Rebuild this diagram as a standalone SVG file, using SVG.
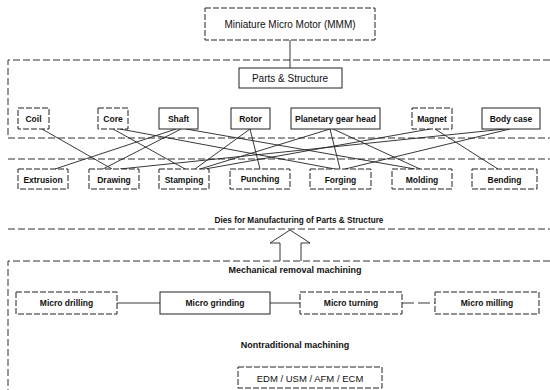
<svg xmlns="http://www.w3.org/2000/svg" width="550" height="390" viewBox="0 0 550 390">
<style>
.bg{fill:#fff}
.box{fill:#fff;stroke:#222;stroke-width:1}
.dash{stroke-dasharray:6 2}
.frame{fill:none;stroke:#333;stroke-width:1;stroke-dasharray:7 3}
.ln{fill:none;stroke:#222;stroke-width:0.9}
.t{font-family:"Liberation Sans",Arial,sans-serif;fill:#111;text-anchor:middle}
.r{font-size:10px}
.b{font-size:8.5px;font-weight:bold}
.h{font-size:9px;font-weight:bold}
</style>
<rect class="bg" x="0" y="0" width="550" height="390"/>
<g id="frames">
<path class="frame" d="M550,60 H8 V138 H550"/>
<path class="frame" d="M8,159 H550"/>
<path class="frame" d="M8,229 H550"/>
<path class="frame" d="M550,261 H8 V390"/>
</g>
<g id="connectors">
<line class="ln" x1="290" y1="40" x2="290" y2="68"/>
<line class="ln" x1="42" y1="129" x2="112" y2="169"/>
<line class="ln" x1="113" y1="129" x2="185" y2="169"/>
<line class="ln" x1="120" y1="129" x2="335" y2="169" stroke-width="1.3"/>
<line class="ln" x1="176" y1="129" x2="55" y2="169"/>
<line class="ln" x1="181" y1="129" x2="103" y2="169"/>
<line class="ln" x1="186" y1="129" x2="415" y2="169" stroke-width="1.3"/>
<line class="ln" x1="250" y1="129" x2="195" y2="169"/>
<line class="ln" x1="250" y1="129" x2="260" y2="169"/>
<line class="ln" x1="330" y1="129" x2="200" y2="169"/>
<line class="ln" x1="330" y1="129" x2="340" y2="169"/>
<line class="ln" x1="333" y1="129" x2="420" y2="169"/>
<line class="ln" x1="430" y1="129" x2="205" y2="169"/>
<line class="ln" x1="435" y1="129" x2="498" y2="169"/>
<line class="ln" x1="510" y1="129" x2="345" y2="169"/>
<line class="ln" x1="505" y1="129" x2="120" y2="169" stroke-width="1.3"/>
<line class="ln" x1="117" y1="303" x2="160" y2="303"/>
<line class="ln" x1="270" y1="303" x2="300" y2="303"/>
<line class="ln" x1="402" y1="303" x2="435" y2="303" stroke-dasharray="12 4"/>
<path id="up-arrow" class="ln" fill="#fff" d="M280,261 V243 H270 L290,230 L310,243 H301 V261"/>
</g>
<g id="mmm"><rect class="box dash" x="205" y="8" width="170" height="32"/><text class="t r" x="290" y="28" font-size="10.5">Miniature Micro Motor (MMM)</text></g>
<g id="parts"><rect class="box" x="239" y="68" width="103" height="20"/><text class="t r" x="290" y="81.5">Parts &amp; Structure</text></g>
<g id="coil"><rect class="box dash" x="18" y="108" width="31" height="21"/><text class="t b" x="33.5" y="122">Coil</text></g>
<g id="core"><rect class="box dash" x="98" y="108" width="30" height="21"/><text class="t b" x="113" y="122">Core</text></g>
<g id="shaft"><rect class="box" x="159" y="108" width="39" height="21"/><text class="t b" x="178.5" y="122">Shaft</text></g>
<g id="rotor"><rect class="box" x="231" y="108" width="39" height="21"/><text class="t b" x="250.5" y="122">Rotor</text></g>
<g id="planetary"><rect class="box" x="291" y="108" width="89" height="21"/><text class="t b" x="335.5" y="122">Planetary gear head</text></g>
<g id="magnet"><rect class="box dash" x="412" y="108" width="40" height="21"/><text class="t b" x="432" y="122">Magnet</text></g>
<g id="bodycase"><rect class="box" x="482" y="108" width="58" height="21"/><text class="t b" x="511" y="122">Body case</text></g>
<g id="extrusion"><rect class="box dash" x="18" y="169" width="50" height="20" stroke="#777"/><text class="t b" x="43" y="182.5">Extrusion</text></g>
<g id="drawing"><rect class="box dash" x="89" y="169" width="50" height="20"/><text class="t b" x="114" y="182.5">Drawing</text></g>
<g id="stamping"><rect class="box dash" x="159" y="169" width="50" height="20"/><text class="t b" x="184" y="182.5">Stamping</text></g>
<g id="punching"><rect class="box dash" x="230" y="169" width="60" height="20"/><text class="t b" x="260" y="182">Punching</text></g>
<g id="forging"><rect class="box dash" x="310" y="169" width="61" height="20"/><text class="t b" x="340.5" y="182.5">Forging</text></g>
<g id="molding"><rect class="box dash" x="392" y="169" width="60" height="20"/><text class="t b" x="422" y="182.5">Molding</text></g>
<g id="bending"><rect class="box dash" x="472" y="169" width="65" height="20"/><text class="t b" x="504.5" y="182.5">Bending</text></g>
<g id="dies-label"><text class="t" x="299" y="223" font-size="8.2" font-weight="bold">Dies for Manufacturing of Parts &amp; Structure</text></g>
<g id="mech-label"><text class="t h" x="295" y="273">Mechanical removal machining</text></g>
<g id="drilling"><rect class="box dash" x="16" y="292" width="101" height="22"/><text class="t b" x="66.5" y="306">Micro drilling</text></g>
<g id="grinding"><rect class="box" x="160" y="292" width="110" height="22"/><text class="t b" x="215" y="306">Micro grinding</text></g>
<g id="turning"><rect class="box dash" x="300" y="292" width="102" height="22"/><text class="t b" x="351" y="306">Micro turning</text></g>
<g id="milling"><rect class="box dash" x="435" y="292" width="104" height="22"/><text class="t b" x="487" y="306">Micro milling</text></g>
<g id="nontrad-label"><text class="t h" x="295" y="348">Nontraditional machining</text></g>
<g id="edm"><rect class="box dash" x="238" y="367" width="144" height="21"/><text class="t" x="310" y="381.5" font-size="9.5">EDM / USM / AFM / ECM</text></g>
</svg>
